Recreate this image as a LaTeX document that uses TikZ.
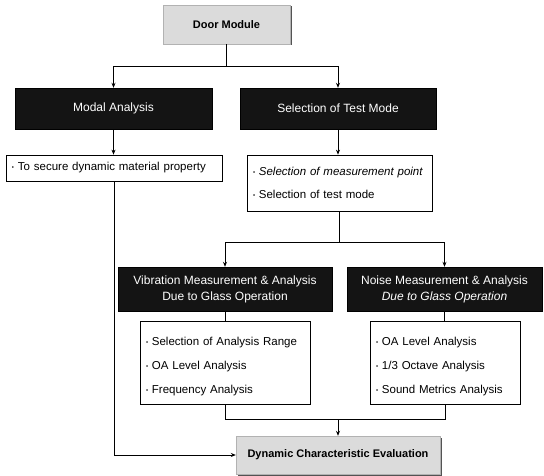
\documentclass[tikz,border=0pt]{standalone}
\usepackage{fontspec}
\setmainfont{Liberation Sans}
\usetikzlibrary{arrows.meta,shadows}
\newcommand\mybul{\raisebox{0.2ex}{\fontsize{6}{6}\selectfont\textbullet}\ }
\begin{document}
\begin{tikzpicture}[x=1pt,y=-1pt,
  every node/.style={font=\fontsize{12}{16}\selectfont, inner sep=0pt},
  darkbox/.style={draw=black, fill=black!92, text=white, align=center,
    drop shadow={shadow xshift=1pt, shadow yshift=-1pt, fill=gray!60, opacity=1}},
  greybox/.style={draw=gray!60, fill=gray!28, align=center, font=\fontsize{11}{14}\selectfont\bfseries,
    drop shadow={shadow xshift=1.5pt, shadow yshift=-1.5pt, fill=gray!65!black, opacity=1}},
  listbox/.style={draw=black, fill=white, line width=0.7pt, align=left, inner xsep=6pt},
  conn/.style={line width=0.7pt},
  arr/.style={conn, -{Stealth[length=5pt,width=4pt]}}]
\useasboundingbox (0,0) rectangle (544,476);

\node[greybox, minimum width=127pt, minimum height=39pt] (door) at (226.5,24.5) {Door Module};
\node[darkbox, minimum width=197pt, minimum height=41pt] (modal) at (113.5,108.5) {Modal Analysis};
\node[darkbox, minimum width=196pt, minimum height=41pt] (testmode) at (338,108.5) {Selection of Test Mode};
\node[listbox, text width=204pt, minimum height=26pt, font=\fontsize{11.5}{16}\selectfont] (secure) at (114,168) {\mybul To secure dynamic material property};
\node[listbox, text width=173pt, minimum height=56pt, font=\fontsize{11.5}{23}\selectfont] (sel) at (339.5,183)
  {\mybul\textit{Selection of measurement point}\\ \mybul Selection of test mode};
\node[darkbox, minimum width=214pt, minimum height=44pt] (vib) at (225,289)
  {Vibration Measurement \& Analysis\\ Due to Glass Operation};
\node[darkbox, minimum width=195pt, minimum height=44pt] (noise) at (444.5,289)
  {Noise Measurement \& Analysis\\ \textit{Due to Glass Operation}};
\node[listbox, text width=158pt, minimum height=83pt, font=\fontsize{11.5}{24}\selectfont] (viblist) at (225,362.5)
  {\rule{0pt}{16pt}\mybul Selection of Analysis Range\\ \mybul OA Level Analysis\\ \mybul Frequency Analysis};
\node[listbox, text width=138pt, minimum height=83pt, font=\fontsize{11.5}{24}\selectfont] (noiselist) at (445,362.5)
  {\rule{0pt}{16pt}\mybul OA Level Analysis\\ \mybul 1/3 Octave Analysis\\ \mybul Sound Metrics Analysis};
\node[greybox, minimum width=204pt, minimum height=38pt] (dyn) at (338,455) {Dynamic Characteristic Evaluation};

\coordinate (split1) at (226.5,66);
\coordinate (split2) at (339.5,242);
\coordinate (join) at (338,419);

\draw[conn] (door.south) -- (split1);
\draw[arr] (split1) -| (modal.north);
\draw[arr] (split1) -| (testmode.north);
\draw[arr] (modal.south) -- (modal.south |- secure.north);
\draw[arr] (testmode.south) -- (testmode.south |- sel.north);
\draw[conn] (sel.south) -- (split2);
\draw[arr] (split2) -| (vib.north);
\draw[arr] (split2) -| (noise.north);
\draw[conn] (vib.south) -- (vib.south |- viblist.north);
\draw[conn] (noise.south) -- (noise.south |- noiselist.north);
\draw[conn] (viblist.south) |- (join);
\draw[conn] (noiselist.south) |- (join);
\draw[arr] (join) -- (dyn.north);
\draw[arr] (secure.south) |- (dyn.west);
\end{tikzpicture}
\end{document}
